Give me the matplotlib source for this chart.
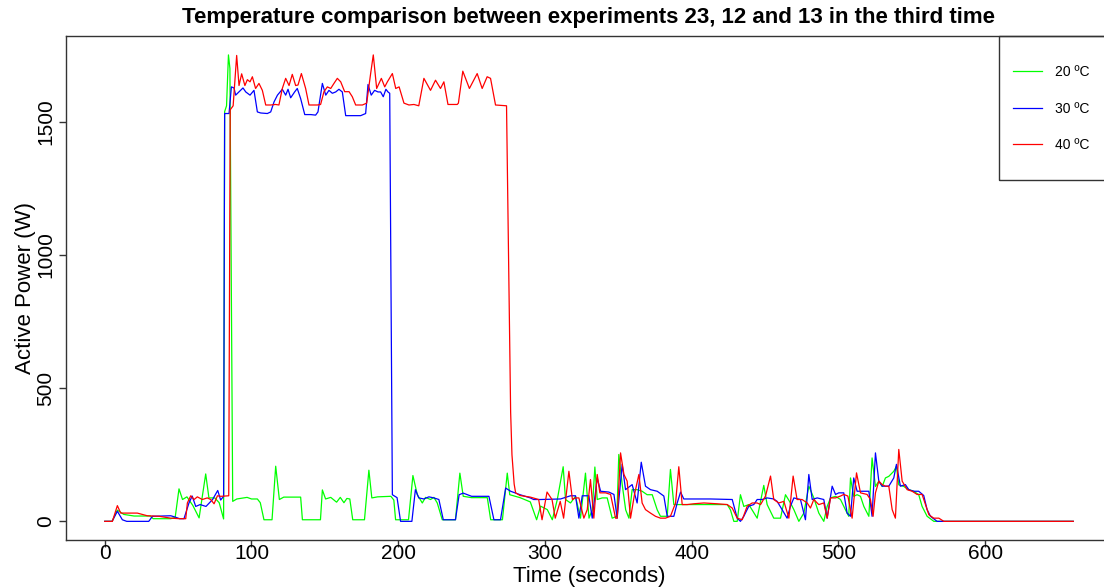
import matplotlib
matplotlib.use("Agg")
import matplotlib.pyplot as plt
from matplotlib.patches import Rectangle

plt.rcParams['font.family'] = ['Liberation Sans', 'DejaVu Sans']

# 20 ºC (experiment 23)
t_20 = [0, 5, 8.6, 13, 20, 31, 33, 45, 48, 50.6, 53, 56, 60, 64.3, 68.8, 71, 75, 78, 81,
        81.7, 83, 84.3, 85.3, 87.2, 90, 97, 100, 104, 106, 108.5, 114, 116.5, 119, 122,
        133.5, 134.7, 147, 148.3, 150.5, 154, 158, 160.5, 163, 165, 167, 169, 177, 180,
        182, 186, 195, 197, 198.2, 207, 210, 213, 216.4, 218.6, 222, 224.3, 226.6, 230,
        239, 242, 244.3, 250, 260.7, 263, 271, 274.3, 276, 283, 290, 294.3, 297, 301.6,
        305, 308.4, 312.4, 314, 317.4, 320.8, 324.2, 327.6, 330, 332.2, 334, 335.6, 339,
        342.4, 345.8, 349, 350.3, 352.7, 355, 357.2, 359.4, 362.8, 366.2, 369.6, 373.1,
        376.5, 378.7, 383.3, 385.5, 387.8, 393, 400, 410, 424.2, 426.4, 428.7, 431, 433.2,
        435.5, 438.9, 444.6, 449.1, 451.4, 455.9, 460.5, 463.9, 467.3, 469.6, 473, 476.4,
        479.8, 483.2, 486.6, 490, 492.3, 494.6, 498, 501.4, 504.8, 507, 508.2, 510.4,
        512.7, 515, 517.3, 520.7, 522.9, 525.2, 527.5, 529.8, 532, 534.3, 537.7, 539.5,
        541.1, 544.5, 547.9, 551.3, 554.7, 557, 560.4, 565, 660]
p_20 = [0, 0, 42, 26, 20, 20, 10, 10, 15, 122, 82, 92, 60, 13, 178, 88, 88, 70, 9,
        1538, 1560, 1751, 1700, 75, 84, 90, 84, 84, 70, 6, 6, 207, 82, 91,
        91, 6, 6, 118, 84, 90, 72, 90, 70, 86, 84, 6, 6, 192,
        88, 92, 94, 80, 6, 6, 172, 100, 69, 90, 82, 90, 69, 6,
        6, 181, 94, 89, 89, 6, 6, 181, 100, 89, 73, 6, 57, 44,
        6, 82, 205, 82, 69, 94, 12, 181, 12, 43, 204, 82, 88,
        88, 12, 19, 251, 135, 43, 12, 119, 119, 113, 100, 100,
        43, 19, 19, 195, 63, 63, 63, 63, 63, 43, 0, 0, 100,
        56, 63, 12, 135, 63, 12, 12, 100, 69, 44, 0, 31,
        132, 88, 31, 0, 56, 88, 94, 82, 43, 19, 163, 94,
        100, 94, 56, 19, 238, 131, 151, 131, 163, 169, 188, 207,
        137, 131, 119, 113, 100, 56, 19, 0, 0]

# 30 ºC (experiment 12)
t_30 = [0, 5, 8.6, 12, 15, 30, 32.5, 45, 48, 51, 54, 57.4, 59.6, 62, 65, 69, 73.5, 77,
        79, 81, 81.7, 84.7, 86.3, 88.1, 89.2, 91.4, 94.2, 96.1, 99, 101.7, 104, 106.3,
        110.8, 113.1, 115.4, 117.7, 121, 123.3, 124.9, 126.7, 129.4, 131.2, 133.5, 136.3,
        140.4, 143.7, 145.3, 148.3, 150.6, 152.8, 155.1, 157.4, 159.6, 161.9, 164.2,
        169.8, 174.4, 177.8, 179.4, 181.6, 183.9, 186.2, 188, 189.8, 191.6, 193, 194.2,
        196, 199.2, 201.6, 209.3, 211.7, 214, 217.5, 220.9, 224.3, 227.7, 230.7, 239,
        241.5, 244.3, 250, 261.8, 265.2, 269.7, 273.2, 276.6, 283, 290, 292.3, 297,
        310.6, 317.4, 320.8, 323.1, 325.4, 329.9, 332.2, 335.6, 337.9, 343.5, 347, 349.2,
        352.6, 354.9, 359.4, 362.8, 365.6, 368.5, 371.9, 376.5, 381, 383.3, 387.8, 390.1,
        392.4, 394.6, 401.4, 412.8, 427.6, 431, 433.2, 435.5, 438.9, 442.3, 444.6, 448,
        451.4, 455.9, 458.2, 461.6, 465, 467.3, 469.6, 474.1, 477.5, 479.8, 482.1, 485.5,
        490, 492.3, 495.7, 498, 500.2, 503.6, 505.9, 508.2, 510.4, 512.7, 515, 520.7,
        522.9, 525.2, 527.5, 529.8, 534.3, 537.7, 539.5, 542.2, 545.6, 547.9, 551.3,
        554.7, 558.1, 560.4, 562.7, 567.2, 660]
p_30 = [0, 0, 38, 6, 0, 0, 19, 21, 16, 10, 10, 69, 95, 56, 63, 56, 82, 116,
        80, 94, 1531, 1531, 1631, 1627, 1600, 1612, 1627, 1612, 1600, 1618, 1537, 1533,
        1531, 1537, 1575, 1600, 1622, 1600, 1622, 1590, 1612, 1625, 1587, 1527,
        1527, 1525, 1537, 1644, 1600, 1618, 1607, 1612, 1622, 1612, 1523,
        1523, 1523, 1531, 1640, 1600, 1618, 1612, 1612, 1594, 1622, 1612, 1607,
        100, 89, 0, 0, 119, 88, 84, 92, 88, 82, 6, 6,
        100, 106, 94, 94, 6, 6, 125, 113, 100, 88, 82, 82,
        84, 96, 96, 12, 96, 96, 12, 163, 113, 110, 101, 12,
        214, 119, 138, 69, 222, 132, 119, 113, 95, 19, 19, 69,
        110, 84, 84, 84, 82, 12, 0, 19, 57, 63, 82, 82,
        88, 84, 75, 44, 12, 57, 88, 82, 6, 176, 82, 88,
        82, 12, 132, 101, 107, 107, 31, 19, 163, 113, 113, 113,
        19, 257, 151, 132, 132, 163, 214, 132, 138, 119, 113,
        113, 97, 44, 19, 0, 0]

# 40 ºC (experiment 13)
t_40 = [0, 5.2, 8.6, 10.9, 15, 22.2, 29, 37, 45, 51, 55.2, 56.3, 58.6, 60.9, 63.1, 66.5,
        69.9, 72.2, 74.5, 76.8, 79.1, 84.5, 85.5, 87.5, 89.9, 91.5, 93.3, 95.5, 97.2, 99,
        100.6, 102.8, 105.1, 107.4, 109.7, 113.1, 116.4, 118.7, 121, 123.3, 125.6, 127.8,
        130.1, 131.7, 134, 136.9, 139.2, 144.9, 147.1, 149.4, 151.7, 154, 156.2, 158.5,
        160.8, 163.5, 166.5, 168.7, 171, 175.6, 178.5, 181.2, 183, 185.3, 188.5, 190.8,
        192.6, 196, 198.3, 200.6, 203.9, 207.3, 210.7, 214, 217.5, 222, 225.4, 228.8,
        231.1, 233.9, 240.2, 241, 244, 248.5, 253.8, 257.2, 260.6, 262.9, 266.3, 273.8,
        276.6, 277.5, 279, 280, 283, 290, 295.7, 298, 301.4, 304.8, 307, 310.4, 312.7,
        316.3, 318.7, 320.8, 323.1, 326.5, 328.8, 331, 333.3, 335.6, 337.4, 341.3, 344.7,
        348.1, 349.2, 351.5, 353.8, 356, 358.3, 361, 364, 366.2, 368.5, 371.9, 375.3,
        378.7, 382.1, 385.5, 389, 391.2, 393.5, 396.9, 401.4, 408.3, 417.3, 424.2, 427.6,
        431, 434.4, 437.8, 441.2, 444.6, 446.9, 450.3, 453.7, 455.9, 459.3, 462.8, 466.2,
        469.1, 471.8, 475.2, 478.7, 480.9, 483.2, 486.6, 490, 492.3, 494.6, 498, 501.4,
        503.6, 506.4, 509.3, 512.3, 515, 519.5, 521.8, 523.6, 525.2, 527.5, 529.8, 532,
        534.3, 536.6, 538.8, 541.1, 543.4, 546.8, 550.2, 553.6, 557, 559.3, 561.6, 564.9,
        568.4, 571.8, 660]
p_40 = [0, 0, 59, 31, 31, 31, 21, 19, 12, 10, 10, 69, 96, 82, 92, 82,
        88, 82, 66, 96, 94, 96, 1545, 1560, 1749, 1636, 1680, 1636, 1658, 1650,
        1669, 1625, 1644, 1618, 1563, 1563, 1565, 1563, 1625, 1663, 1636, 1678,
        1636, 1638, 1681, 1625, 1563, 1563, 1565, 1613, 1631, 1625, 1644, 1663,
        1650, 1613, 1613, 1594, 1563, 1563, 1570, 1681, 1751, 1625, 1663, 1631,
        1650, 1681, 1625, 1631, 1570, 1563, 1565, 1560, 1663, 1618, 1656, 1625,
        1650, 1565, 1565, 1570, 1690, 1625, 1681, 1625, 1669, 1663, 1563, 1560,
        410, 250, 140, 107, 97, 91, 82, 6, 110, 82, 12, 75, 12,
        188, 82, 88, 88, 12, 44, 157, 12, 176, 107, 107, 101,
        12, 12, 257, 176, 151, 12, 101, 176, 69, 44, 31, 19,
        12, 12, 19, 69, 205, 63, 63, 66, 69, 66, 63, 50,
        12, 6, 57, 69, 69, 63, 95, 170, 82, 69, 75, 12,
        170, 82, 82, 69, 50, 82, 63, 69, 12, 88, 88, 95,
        101, 95, 12, 182, 107, 101, 82, 19, 107, 151, 138, 132,
        132, 44, 12, 270, 151, 119, 113, 101, 101, 63, 25, 12,
        12, 0, 0]

labels = ['20 ºC', '30 ºC', '40 ºC']
colors = ['#00ff00', '#0000ff', '#ff0000']

fig = plt.figure(figsize=(11.04, 5.87), dpi=100)
ax = fig.add_axes([66 / 1104, 47 / 587, 1046 / 1104, 504 / 587])

l1, = ax.plot(t_20, p_20, color=colors[0], lw=0.9)
l2, = ax.plot(t_30, p_30, color=colors[1], lw=0.9)
l3, = ax.plot(t_40, p_40, color=colors[2], lw=0.9)

ax.set_xlim(-26.4, 686.4)
ax.set_ylim(-70, 1822)
ax.set_xticks([0, 100, 200, 300, 400, 500, 600])
ax.set_yticks([0, 500, 1000, 1500])
for s in ax.spines.values():
    s.set_color('#333333')
    s.set_linewidth(1)
ax.tick_params(direction='out', length=5, width=1, color='#333333', labelsize=15)
ax.tick_params(axis='x', pad=-2)
ax.tick_params(axis='y', labelrotation=90, pad=3)
plt.setp(ax.get_yticklabels(), va='center')

ax.set_xlabel('Time (seconds)', fontsize=16, labelpad=2)
ax.set_ylabel('Active Power (W)', fontsize=16, labelpad=0)

fig.text(589 / 1104, 1 - 18 / 587,
         'Temperature comparison between experiments 23, 12 and 13 in the third time',
         ha='center', va='center', fontsize=16, fontweight='bold')

# legend box sitting in the top right corner of the plot
x0 = (999 - 66) / 1046
y0 = (540 - 180) / 504
ax.add_patch(Rectangle((x0, y0), 1 - x0, 1 - y0, transform=ax.transAxes,
                       fill=False, edgecolor='#333333', lw=1, clip_on=False))
ax.legend([l1, l2, l3], labels, loc='center left',
          bbox_to_anchor=((1013 - 66) / 1046, (540 - 108.7) / 504),
          frameon=False, fontsize=10, borderpad=0, borderaxespad=0,
          handlelength=2.1, handletextpad=0.95, labelspacing=1.63)

fig.savefig('out.png', dpi=100)
